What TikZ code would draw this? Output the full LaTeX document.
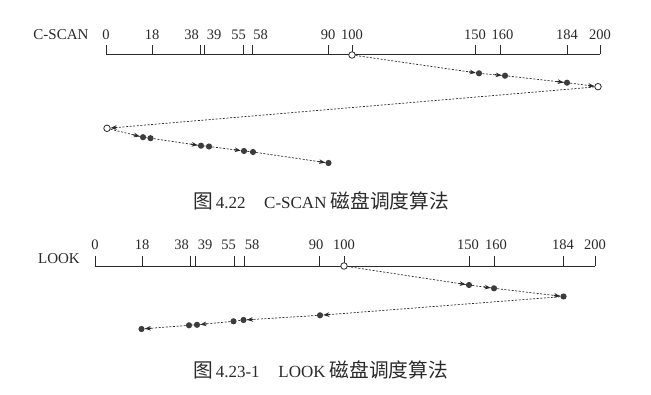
\documentclass[tikz,border=0pt]{standalone}
\usepackage{fontspec}
\setmainfont{Liberation Serif}
\newfontfamily\cjk[Scale=1.16]{Noto Sans CJK SC}
\usetikzlibrary{calc,arrows.meta}
\definecolor{ink}{HTML}{2A2A2A}
\definecolor{dotc}{HTML}{3C3C3C}
\tikzset{
  axisline/.style={draw=ink, line width=0.8pt},
  tickline/.style={draw=ink, line width=0.7pt},
  numlbl/.style={font=\fontsize{14.5}{16}\selectfont, text=ink, inner sep=0pt},
  namelbl/.style={font=\fontsize{15}{17}\selectfont, text=ink, inner sep=0pt},
  caplbl/.style={font=\fontsize{17}{19}\selectfont, text=ink, inner sep=0pt, anchor=west},
  pt/.style={circle, fill=dotc, inner sep=0pt, minimum size=6.2pt},
  opn/.style={circle, draw=ink, fill=white, line width=0.8pt, inner sep=0pt, minimum size=6.5pt},
  dline/.style={draw=ink, line width=0.7pt, dash pattern=on 2pt off 1.6pt},
  arr/.style={draw=ink, line width=1.2pt, -{Stealth[length=6pt,width=4.6pt]}},
}
\newcommand{\seg}[2]{\draw[dline] (#1) -- (#2); \draw[arr] ($(#2)!10pt!(#1)$) -- (#2);}
\newcommand{\pseg}[2]{\draw[dline] (#1) -- (#2);}
\begin{document}
\begin{tikzpicture}[x=1pt,y=-1pt]
\useasboundingbox (0,0) rectangle (651,395);
% ---------- C-SCAN ----------
\node[namelbl] (cname) at (61,35) {C-SCAN};
\coordinate (cax0) at (106,54);
\coordinate (cax1) at (600,54);
\draw[axisline] (cax0) -- (cax1);
\foreach \v/\xx in {0/106,18/152,38/200.5,39/204.5,55/243,58/252,90/328,100/352,150/475,160/500,184/567,200/600}{
  \draw[tickline] (\xx,45) -- (\xx,54);
}
\foreach \v/\xx in {0/106,18/152,38/191.5,39/214,55/238.5,58/260.5,90/328,100/352,150/475,160/502.5,184/567,200/600}{
  \node[numlbl] (cl\v) at (\xx,35) {\v};
}
\node[opn] (c100) at (352,55) {};
\node[pt] (c150) at (479,73.3) {};
\node[pt] (c160) at (505,75.7) {};
\node[pt] (c184) at (567,82.7) {};
\node[opn] (c200) at (598,86.7) {};
\node[opn] (c0) at (107,128.3) {};
\node[pt] (ca) at (143,137.2) {};
\node[pt] (cb) at (150.5,138.2) {};
\node[pt] (cc) at (201,145.7) {};
\node[pt] (cd) at (209,146.5) {};
\node[pt] (ce) at (244,151) {};
\node[pt] (cf) at (253,152) {};
\node[pt] (cg) at (328.5,163) {};
\seg{c100}{c150}
\seg{c150}{c160}
\seg{c160}{c184}
\seg{c184}{c200}
\seg{c200}{c0}
\seg{c0}{ca}
\pseg{ca}{cb}
\seg{cb}{cc}
\pseg{cc}{cd}
\seg{cd}{ce}
\pseg{ce}{cf}
\seg{cf}{cg}
\node[caplbl] (cap1) at (193,201) {{\cjk 图}\,4.22\hspace{1.1em}C-SCAN {\cjk 磁盘调度算法}};
% ---------- LOOK ----------
\node[namelbl] (lname) at (59,259) {LOOK};
\coordinate (lax0) at (95,266);
\coordinate (lax1) at (595,266);
\draw[axisline] (lax0) -- (lax1);
\foreach \v/\xx in {0/95,18/142,38/190.5,39/195.5,55/234,58/244,90/319,100/344,150/469,160/494,184/563,200/595}{
  \draw[tickline] (\xx,256) -- (\xx,266);
}
\foreach \v/\xx in {0/95,18/142,38/181.5,39/205,55/228.5,58/252,90/316,100/344,150/468,160/496,184/563,200/595}{
  \node[numlbl] (ll\v) at (\xx,245) {\v};
}
\node[opn] (l100) at (344,266) {};
\node[pt] (l150) at (469,285) {};
\node[pt] (l160) at (494,288.3) {};
\node[pt] (l184) at (563.5,296.5) {};
\node[pt] (l90) at (320,315.3) {};
\node[pt] (l58) at (243.5,320) {};
\node[pt] (l55) at (233.5,321.3) {};
\node[pt] (l39) at (197,324.8) {};
\node[pt] (l38) at (189,325.3) {};
\node[pt] (l18) at (141.5,329) {};
\seg{l100}{l150}
\seg{l150}{l160}
\seg{l160}{l184}
\seg{l184}{l90}
\seg{l90}{l58}
\pseg{l58}{l55}
\seg{l55}{l39}
\pseg{l39}{l38}
\seg{l38}{l18}
\node[caplbl] (cap2) at (193,370) {{\cjk 图}\,4.23-1\hspace{1.1em}LOOK {\cjk 磁盘调度算法}};
\end{tikzpicture}
\end{document}
